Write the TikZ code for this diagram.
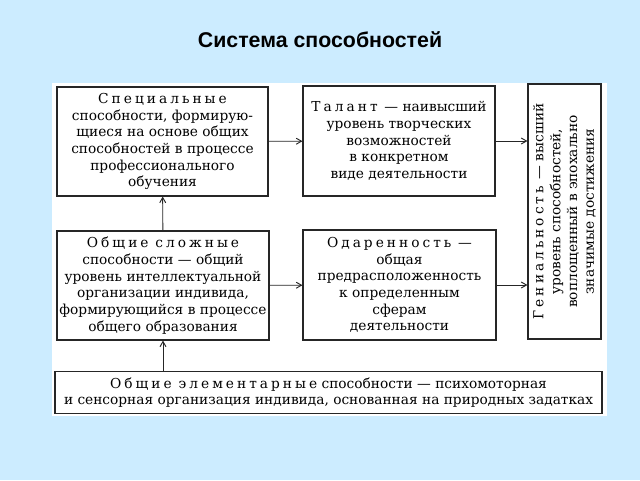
\documentclass[tikz,border=0pt]{standalone}
\usepackage{fontspec}
\setmainfont{DejaVu Serif}
\newfontfamily\titlefont{Liberation Sans}
\newfontfamily\spacedfont[LetterSpace=22]{DejaVu Serif}
\usetikzlibrary{arrows.meta}
\definecolor{bg}{RGB}{204,236,255}
\newcommand{\ls}[1]{{\spacedfont #1}}
\begin{document}
\begin{tikzpicture}[x=0.75pt,y=-0.75pt,
  box/.style={draw=black!85,line width=0.8pt,fill=white,align=center,inner sep=0pt,
    font=\fontsize{10.3}{12.5}\selectfont},
  txt/.style={align=center,inner sep=0pt,font=\fontsize{10.3}{12.6}\selectfont},
  arr/.style={-{Straight Barb[length=4pt,width=4.5pt]},line width=0.7pt,draw=black!85}]
\fill[bg] (0,0) rectangle (640,480);
\fill[white] (52,83) rectangle (607,416);
\node[font=\titlefont\bfseries\fontsize{16}{19}\selectfont] (title) at (320,40) {Система способностей};
\node[box,minimum width=158.25pt,minimum height=81.75pt] (b1) at (162.5,141.5)
  {\ls{Специальные}\\способности, формирую-\\щиеся на основе общих\\способностей в процессе\\профессионального\\обучения};
\node[box,minimum width=144pt,minimum height=82.5pt] (b2) at (399,141)
  {\ls{Талант}\enspace— наивысший\\уровень творческих\\возможностей\\в конкретном\\виде деятельности};
\node[box,minimum width=54.75pt,minimum height=191.25pt] (b3) at (564.5,211.5) {};
\node[txt,rotate=90] (b3t) at (b3.center)
  {\ls{Гениальность}\enspace— высший\\уровень способностей,\\воплощенный в эпохально\\значимые достижения};
\node[box,minimum width=159pt,minimum height=81.75pt] (b4) at (163,285.5)
  {\ls{Общие}\enspace\ls{сложные}\\способности — общий\\уровень интеллектуальной\\организации индивида,\\формирующийся в процессе\\общего образования};
\node[box,minimum width=144.75pt,minimum height=82.5pt] (b5) at (399.5,285)
  {\ls{Одаренность}\enspace—\\общая\\предрасположенность\\к определенным\\сферам\\деятельности};
\node[box,minimum width=410.25pt,minimum height=31.5pt] (b6) at (328.5,392.5)
  {\ls{Общие}\enspace\ls{элементарные} способности — психомоторная\\и сенсорная организация индивида, основанная на природных задатках};
\draw[arr] (b1) -- (b2);
\draw[arr] (b2.east) -- (b2.east -| b3.west);
\draw[arr] (b4) -- (b5);
\draw[arr] (b5.east) -- (b5.east -| b3.west);
\draw[arr] (b4) -- (b1);
\draw[arr] (b6.north -| b4) -- (b4.south);
\end{tikzpicture}
\end{document}
